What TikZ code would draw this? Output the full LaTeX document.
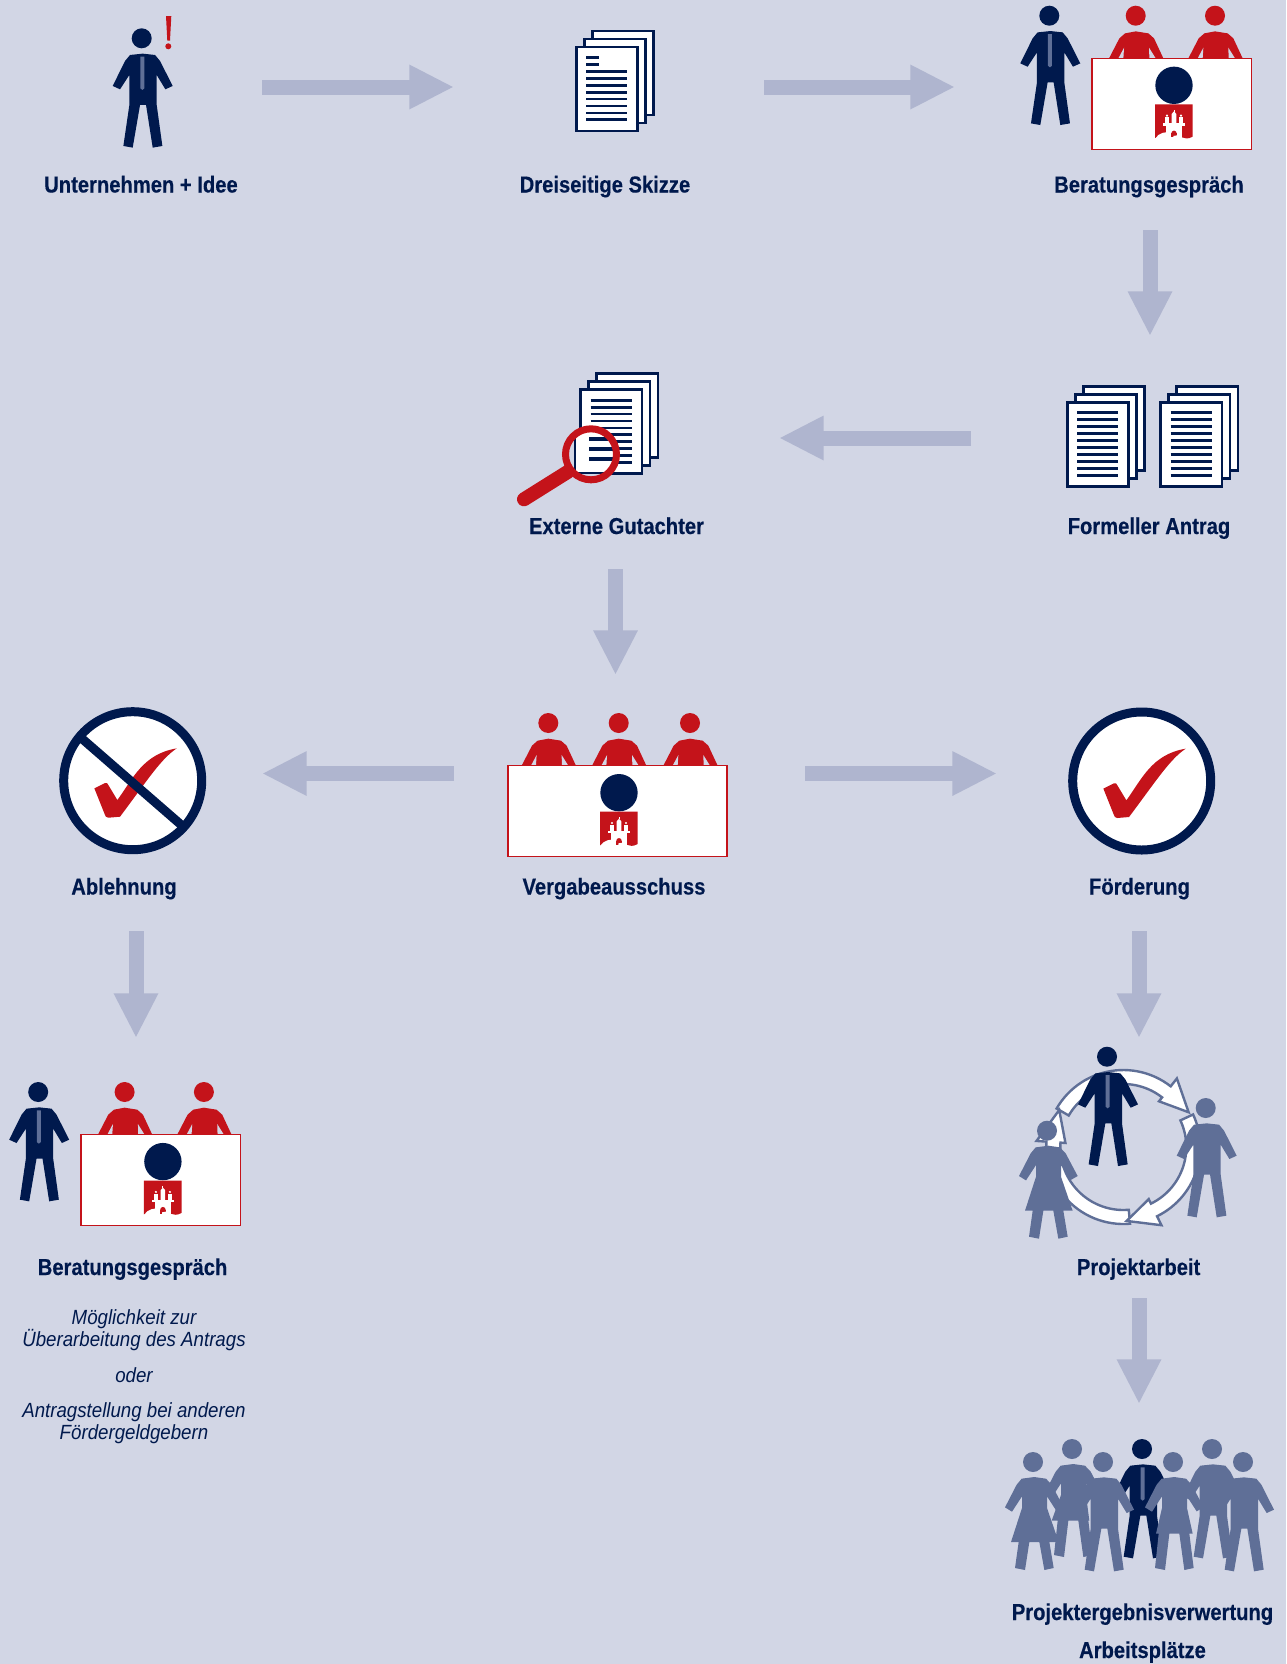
\documentclass[tikz,border=0pt]{standalone}
\usepackage{fontspec}
\usetikzlibrary{arrows.meta}
\newfontfamily\headfont[FakeStretch=0.875,BoldFeatures={FakeBold=0.35}]{Liberation Sans}
\newfontfamily\subfont[FakeStretch=0.91]{Liberation Sans}
\definecolor{bgc}{HTML}{D2D6E5}
\definecolor{navyc}{HTML}{00194D}
\definecolor{redc}{HTML}{C4131A}
\definecolor{arrowc}{HTML}{AFB5CF}
\definecolor{greyc}{HTML}{5F6F97}
\tikzset{
  bigarrow/.style={draw=arrowc,line width=11.25pt,-{Triangle[length=33.5pt,width=31pt,fill=arrowc]}},
  stepbox/.style 2 args={inner sep=0pt,outer sep=0pt,minimum width=#1*0.75pt,minimum height=#2*0.75pt},
  headline/.style={text=navyc,font=\headfont\bfseries\fontsize{17.3pt}{20pt}\selectfont,inner sep=0pt,anchor=base},
  subline/.style={text=navyc,font=\subfont\itshape\fontsize{15.4pt}{18pt}\selectfont,inner sep=0pt,anchor=base},
  pageshape/.style={draw=navyc,fill=white,line width=2pt},
  pageline/.style={draw=navyc,line width=2.1pt},
  ringarrow/.style={draw=greyc,fill=white,line width=1.8pt,line join=miter},
  tablebox/.style={draw=redc,fill=white,line width=1pt},
  zoomunits/.style={x=0.25pt,y=-0.25pt},
  stampring/.style={draw=navyc,fill=white,line width=6.75pt}
}
% figures: coordinates in thirds of a pixel relative to the head centre
\newcommand{\manbody}{(-35,50) -- (3,46) -- (40,50) -- (55,68) -- (93,143) -- (71,153) -- (45,110) -- (45,200) -- (62,323) -- (33,328) -- (13,200) -- (-5,200) -- (-27,328) -- (-55,323) -- (-37,200) -- (-37,110) -- (-65,153) -- (-87,143) -- (-50,68) -- cycle}
\newcommand{\manfig}[3]{\begin{scope}[shift={(#1,#2)},zoomunits]
  \fill[#3] (0,0) circle[radius=30];
  \fill[#3] \manbody;
\end{scope}}
\newcommand{\tiedman}[2]{\begin{scope}[shift={(#1,#2)},zoomunits]
  \fill[navyc] (0,0) circle[radius=30];
  \fill[navyc] \manbody;
  \fill[greyc] (-4,55) -- (8,55) -- (8,150) -- (2,155) -- (-4,150) -- cycle;
\end{scope}}
\newcommand{\womanfig}[5]{\begin{scope}[shift={(#1,#2)},zoomunits]
  \fill[greyc] (0,0) circle[radius=30];
  \fill[greyc] (-34,50) -- (4,45) -- (39,50) -- (56,68) -- (92,136) -- (71,148) -- (42,103) -- (42,138) -- (#5,#3) -- (49,#3) -- (62,318) -- (34,324) -- (19,#3) -- (-11,#3) -- (-24,324) -- (-54,318) -- (-43,#3) -- (#4,#3) -- (-33,138) -- (-33,103) -- (-63,149) -- (-84,136) -- (-49,68) -- cycle;
\end{scope}}
\newcommand{\seatfig}[2]{\begin{scope}[shift={(#1,#2)},zoomunits]
  \fill[redc] (0,0) circle[radius=30];
  \fill[redc] (-80,128) -- (-49,68) -- (-32,53) -- (0,47) -- (38,53) -- (55,68) -- (83,128) -- cycle;
  \fill[bgc] (-52,128) -- (-35,96) -- (-37,128) -- cycle;
  \fill[bgc] (41,128) -- (40,96) -- (60,128) -- cycle;
\end{scope}}
\newcommand{\crestfig}[2]{\begin{scope}[shift={(#1,#2)},zoomunits]
  \fill[navyc] (0,0) circle[radius=56];
  \fill[redc] (-57,57) -- (56,57) -- (56,154) .. controls (42,162) and (32,160) .. (23,156) -- (-57,158) -- cycle;
  \fill[white] (-57,160) .. controls (-45,142) and (-25,138) .. (-8,142) -- (-8,165) -- cycle;
  \fill[white] (-24,120) rectangle (23,163);
  \fill[white] (-32,114) rectangle (33,122);
  \fill[white] (-7,86) -- (0,78) -- (7,86) -- (7,116) -- (-7,116) -- cycle;
  \fill[white] (-1.5,73) rectangle (1.5,80);
  \fill[white] (-27,96) rectangle (-15,116);
  \fill[white] (15,96) rectangle (27,116);
  \fill[white] (-21,91) circle[radius=3.5];
  \fill[white] (21,91) circle[radius=3.5];
  \fill[redc] (0,144) circle[radius=8];
  \fill[redc] (-8,144) rectangle (8,156);
  \fill[white] (-2,152) -- (10,150) -- (23,163) -- (-2,163) -- cycle;
\end{scope}}
\newcommand{\docstack}[3]{\begin{scope}[shift={(#1,#2)}]
  \draw[pageshape] (16,-16) rectangle (77.3,68);
  \draw[pageshape] (8,-8) rectangle (69.3,76);
  \draw[pageshape] (0,0) rectangle (61.3,84);
  \foreach \i in {#3,...,9}{\draw[pageline] (10,10.5+6.93*\i) -- (51,10.5+6.93*\i);}
\end{scope}}
\newcommand{\beratungfig}[2]{\begin{scope}[shift={(#1,#2)}]
  \tiedman{1049.3}{15.7}
  \seatfig{1135.7}{15.7}
  \seatfig{1215}{15.7}
  \draw[tablebox] (1092,58.3) rectangle (1251.7,149.3);
  \crestfig{1174}{85.3}
\end{scope}}
\newcommand{\checkfig}{(-115,23) -- (-83,7) .. controls (-78,5) and (-75,8) .. (-73,13) -- (-46,58) .. controls (0,-5) and (30,-80) .. (132,-97) .. controls (85,-65) and (50,-10) .. (-38,108) -- (-73,111) .. controls (-80,110) and (-82,107) .. (-83,103) -- cycle}
\newcommand{\ringtip}[3]{\draw[ringarrow] (#1:77) -- plot[domain=#1:#2,samples=30] (\x:77) -- (#2:87) -- (#3:74) -- (#2:58) -- plot[domain=#2:#1,samples=30] (\x:63) -- cycle;}
\begin{document}
\begin{tikzpicture}[x=0.75pt,y=-0.75pt]
\useasboundingbox (0,0) rectangle (1286,1664);
\fill[bgc] (0,0) rectangle (1286,1664);

% invisible step boxes that carry the connectors
\node[stepbox={242}{100}] (idee) at (141,87) {};
\node[stepbox={310}{100}] (skizze) at (609,87) {};
\node[stepbox={390}{286}] (beratung) at (1150,87) {};
\node[stepbox={358}{204}] (antrag) at (1150,438) {};
\node[stepbox={327}{262}] (gutachter) at (615.5,438) {};
\node[stepbox={351}{197}] (vergabe) at (629.5,773.5) {};
\node[stepbox={252}{315}] (ablehnung) at (136,773.5) {};
\node[stepbox={284}{315}] (foerderung) at (1139,773.5) {};
\node[stepbox={100}{200}] (beratungB) at (136,1138) {};
\node[stepbox={100}{260}] (projekt) at (1139,1168) {};
\node[stepbox={100}{200}] (arbeit) at (1139,1504) {};

% connectors
\draw[bigarrow] (idee.east) -- (skizze.west);
\draw[bigarrow] (skizze.east) -- (beratung.west);
\draw[bigarrow] (beratung.south) -- (antrag.north);
\draw[bigarrow] (antrag.west) -- (gutachter.east);
\draw[bigarrow] (gutachter.south) -- (gutachter.south |- vergabe.north);
\draw[bigarrow] (vergabe.west) -- (ablehnung.east);
\draw[bigarrow] (vergabe.east) -- (foerderung.west);
\draw[bigarrow] (ablehnung.south) -- (beratungB.north);
\draw[bigarrow] (foerderung.south) -- (projekt.north);
\draw[bigarrow] (projekt.south) -- (arbeit.north);

% Unternehmen + Idee
\tiedman{141.7}{38.3}
\fill[redc] (166,16) -- (171.3,16) -- (170,40.7) -- (167.3,40.7) -- cycle;
\fill[redc] (168.3,46.3) circle[radius=3];

% Dreiseitige Skizze
\begin{scope}[shift={(576.4,47)}]
  \draw[pageshape] (16,-16) rectangle (77.3,68);
  \draw[pageshape] (8,-8) rectangle (69.3,76);
  \draw[pageshape] (0,0) rectangle (61.3,84);
  \foreach \i in {0,1}{\draw[pageline] (10,10.5+6.93*\i) -- (23,10.5+6.93*\i);}
  \foreach \i in {2,...,9}{\draw[pageline] (10,10.5+6.93*\i) -- (51,10.5+6.93*\i);}
\end{scope}

% Beratungsgespraech oben / unten
\beratungfig{0}{0}
\beratungfig{-1011.1}{1076.3}

% Formeller Antrag
\docstack{1067.4}{402.3}{0}
\docstack{1160.7}{402.3}{0}

% Externe Gutachter
\docstack{580.7}{389.7}{0}
\draw[redc,line width=10.5pt,line cap=round] (568,471.7) -- (524,499.3);
\begin{scope}
  \clip (591,454.3) circle[radius=25.5];
  \fill[bgc] (591,454.3) circle[radius=25.5];
  \fill[white] (575,420) rectangle (625,473);
  \draw[navyc,line width=2pt] (575,420) -- (575,473) -- (625,473);
  \foreach \yy in {439,449,459}{\draw[navyc,line width=3pt] (589,\yy) -- (613,\yy);}
\end{scope}
\draw[redc,line width=5.25pt] (591,454.3) circle[radius=25.5];

% Vergabeausschuss
\seatfig{548.3}{723}
\seatfig{618.7}{723}
\seatfig{690}{723}
\draw[tablebox] (508,765.3) rectangle (727,856.7);
\crestfig{619}{792.7}

% Ablehnung
\draw[stampring] (132.7,780.7) circle[radius=69];
\begin{scope}[shift={(132.7,780.7)},zoomunits]
  \fill[redc] \checkfig;
  \begin{scope}
    \clip (0,0) circle[radius=207];
    \draw[navyc,line width=6.75pt] (-160,-133) -- (153,139);
  \end{scope}
\end{scope}

% Foerderung
\draw[stampring] (1141.7,781) circle[radius=69];
\begin{scope}[shift={(1141.7,781)},zoomunits]
  \fill[redc] \checkfig;
\end{scope}

% Projektarbeit
\begin{scope}[shift={(1123.3,1147)}]
  \ringtip{-150}{-52}{-28}
  \ringtip{85}{184}{210}
  \ringtip{-25}{64}{87.4}
\end{scope}
\womanfig{1047}{1130.7}{240}{-66}{77}
\manfig{1205.7}{1108}{greyc}
\tiedman{1107}{1056.7}

% Projektergebnisverwertung
\womanfig{1072}{1449}{215}{-61}{52}
\tiedman{1142}{1449}
\manfig{1212}{1449}{greyc}
\womanfig{1033}{1462}{240}{-66}{77}
\manfig{1103}{1462}{greyc}
\womanfig{1173}{1462}{215}{-51}{59}
\manfig{1243}{1462}{greyc}

% labels
\node[headline] (t1) at (141,192.5) {Unternehmen + Idee};
\node[headline] (t2) at (605,192.5) {Dreiseitige Skizze};
\node[headline] (t3) at (1149,192.5) {Beratungsgespräch};
\node[headline] (t4) at (616.5,534) {Externe Gutachter};
\node[headline] (t5) at (1149,534) {Formeller Antrag};
\node[headline] (t6) at (124,894.5) {Ablehnung};
\node[headline] (t7) at (614,894.5) {Vergabeausschuss};
\node[headline] (t8) at (1139.5,894.5) {Förderung};
\node[headline] (t9) at (132.6,1275) {Beratungsgespräch};
\node[headline] (t10) at (1138.6,1275) {Projektarbeit};
\node[headline] (t11) at (1142.5,1620) {Projektergebnisverwertung};
\node[headline] (t12) at (1142.5,1658) {Arbeitsplätze};
\node[subline] (s1) at (134,1324.5) {Möglichkeit zur};
\node[subline] (s2) at (134,1346.5) {Überarbeitung des Antrags};
\node[subline] (s3) at (134,1382.5) {oder};
\node[subline] (s4) at (134,1417) {Antragstellung bei anderen};
\node[subline] (s5) at (134,1439) {Fördergeldgebern};
\end{tikzpicture}
\end{document}
